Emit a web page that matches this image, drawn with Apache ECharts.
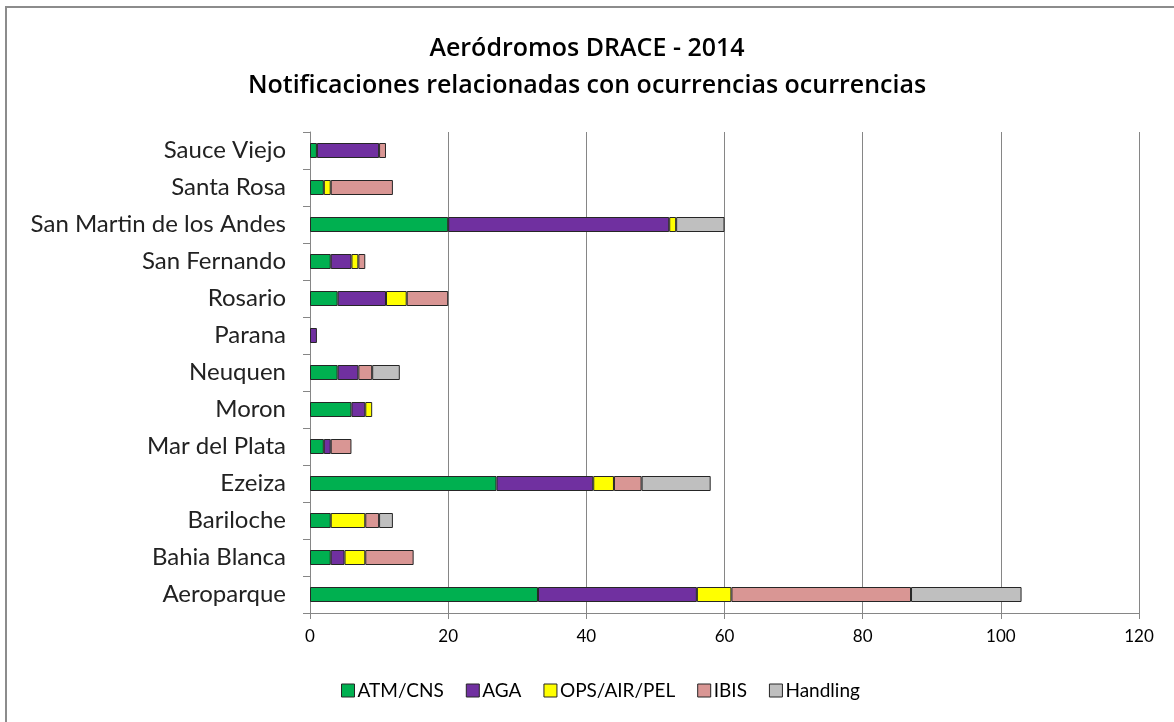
<!DOCTYPE html>
<html>
<head>
<meta charset="utf-8">
<script src="https://cdn.jsdelivr.net/npm/echarts@6/dist/echarts.min.js"></script>
<style>
  html, body { margin: 0; padding: 0; background: #fff; }
  #myChart { width: 1174px; height: 722px; }
</style>
</head>
<body>
<div id="myChart"></div>
<script>
// 数据 (de abajo hacia arriba)
let aerodromos = ['Aeroparque', 'Bahia Blanca', 'Bariloche', 'Ezeiza', 'Mar del Plata', 'Moron',
    'Neuquen', 'Parana', 'Rosario', 'San Fernando', 'San Martin de los Andes', 'Santa Rosa', 'Sauce Viejo']
let atm_cns  = [33, 3, 3, 27, 2, 6, 4, 0, 4, 3, 20, 2, 1]
let aga      = [23, 2, 0, 14, 1, 2, 3, 1, 7, 3, 32, 0, 9]
let ops      = [5, 3, 5, 3, 0, 1, 0, 0, 3, 1, 1, 1, 0]
let ibis     = [26, 7, 2, 4, 3, 0, 2, 0, 6, 1, 0, 9, 1]
let handling = [16, 0, 2, 10, 0, 0, 4, 0, 0, 0, 7, 0, 0]
let x_ticks  = [0, 20, 40, 60, 80, 100, 120]

let font = 'Lato, "Open Sans", sans-serif'

function serie(name, data, color) {
    return {
        name: name,
        type: 'bar',
        stack: 'total',
        barWidth: 15,
        // los ceros no se dibujan
        data: data.map(v => v === 0 ? null : v),
        itemStyle: { color: color, borderColor: '#262626', borderWidth: 1 }
    }
}

let myChart = echarts.init(document.getElementById('myChart'))
myChart.setOption({
    animation: false,
    textStyle: { fontFamily: font },
    title: {
        text: 'Aeródromos DRACE - 2014\nNotificaciones relacionadas con ocurrencias ocurrencias',
        left: 'center',
        top: 25,
        padding: [5, 5, 5, 23],
        textStyle: { fontSize: 25, fontWeight: 600, color: '#000', lineHeight: 37, fontFamily: '"Open Sans", sans-serif' }
    },
    graphic: [{
        type: 'polyline',
        shape: { points: [[6, 740], [6, 7], [1190, 7]] },
        style: { stroke: '#8c8c8c', lineWidth: 2, fill: null }
    }],
    legend: {
        bottom: 17,
        left: 336,
        itemWidth: 13,
        itemHeight: 13,
        itemGap: 22,
        icon: 'rect',
        itemStyle: { borderColor: '#262626', borderWidth: 1 },
        textStyle: { fontSize: 19, color: '#000', fontFamily: font, padding: [0, 0, 0, -2] }
    },
    grid: { left: 310, right: 35, top: 132, bottom: 109, containLabel: false },
    xAxis: {
        type: 'value',
        min: 0,
        max: 120,
        interval: 20,
        axisLine: { show: true, lineStyle: { color: '#868686' } },
        axisTick: { show: true, length: 6, lineStyle: { color: '#868686' } },
        axisLabel: { fontSize: 17, color: '#000', margin: 15, formatter: v => x_ticks.includes(v) ? v : '' },
        splitLine: { show: true, lineStyle: { color: '#868686' } }
    },
    yAxis: {
        type: 'category',
        data: aerodromos,
        axisLine: { lineStyle: { color: '#868686' } },
        axisTick: { show: true, length: 7, lineStyle: { color: '#868686' } },
        axisLabel: { fontSize: 24, color: '#222', margin: 24 }
    },
    series: [
        serie('ATM/CNS', atm_cns, '#00B050'),
        serie('AGA', aga, '#7030A0'),
        serie('OPS/AIR/PEL', ops, '#FFFF00'),
        serie('IBIS', ibis, '#D99694'),
        serie('Handling', handling, '#BFBFBF')
    ]
})
</script>
</body>
</html>
